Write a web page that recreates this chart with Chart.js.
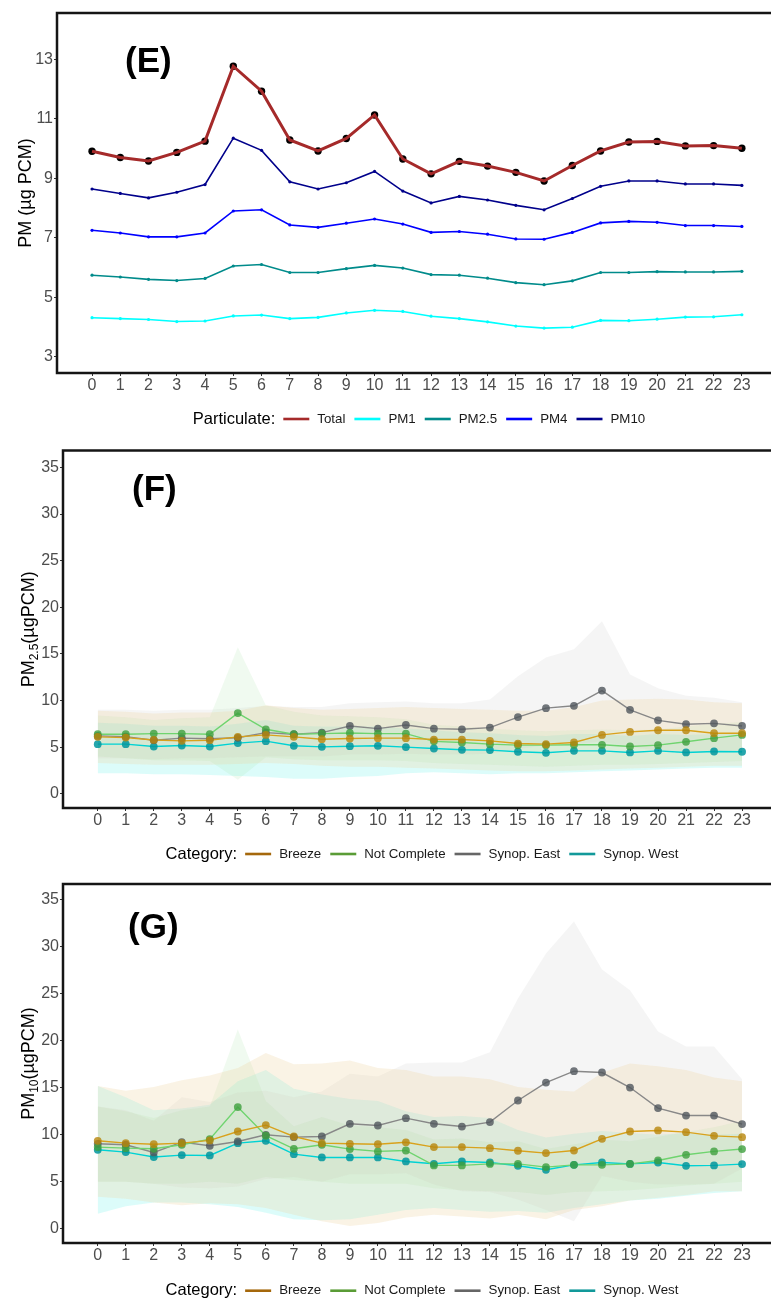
<!DOCTYPE html>
<html>
<head>
<meta charset="utf-8">
<title>PM hourly profiles</title>
<script src="https://cdn.jsdelivr.net/npm/chart.js@4.4.1/dist/chart.umd.min.js"></script>
<style>
  body { margin: 0; background: #fff; overflow: hidden; }
  canvas { display: block; }
</style>
</head>
<body>
<canvas id="chartE" width="771" height="440"></canvas>
<canvas id="chartF" width="771" height="430"></canvas>
<canvas id="chartG" width="771" height="430"></canvas>
<script>
const hours = [0, 1, 2, 3, 4, 5, 6, 7, 8, 9, 10, 11, 12, 13, 14, 15, 16, 17, 18, 19, 20, 21, 22, 23];
const eTicks = [3, 5, 7, 9, 11, 13];
const catTicks = [0, 5, 10, 15, 20, 25, 30, 35];

// (E) hourly means per particulate size
const particulates = ['Total', 'PM1', 'PM2.5', 'PM4', 'PM10'];
const pmTotal = [9.91, 9.70, 9.58, 9.87, 10.25, 12.77, 11.93, 10.29, 9.92, 10.34, 11.13, 9.65, 9.15, 9.57, 9.41, 9.20, 8.91, 9.43, 9.92, 10.22, 10.24, 10.09, 10.10, 10.01];
const pm1 = [4.31, 4.28, 4.25, 4.18, 4.20, 4.37, 4.40, 4.28, 4.32, 4.47, 4.56, 4.52, 4.36, 4.28, 4.17, 4.03, 3.96, 3.99, 4.22, 4.21, 4.26, 4.33, 4.34, 4.41];
const pm25 = [5.74, 5.68, 5.60, 5.56, 5.63, 6.05, 6.10, 5.83, 5.83, 5.96, 6.07, 5.98, 5.76, 5.74, 5.64, 5.49, 5.42, 5.55, 5.83, 5.83, 5.86, 5.85, 5.85, 5.87];
const pm4 = [7.25, 7.16, 7.03, 7.03, 7.16, 7.90, 7.94, 7.43, 7.35, 7.49, 7.63, 7.46, 7.18, 7.21, 7.12, 6.96, 6.95, 7.18, 7.50, 7.55, 7.52, 7.41, 7.41, 7.38];
const pm10 = [8.64, 8.49, 8.34, 8.53, 8.79, 10.35, 9.94, 8.88, 8.64, 8.85, 9.23, 8.57, 8.17, 8.39, 8.27, 8.09, 7.94, 8.32, 8.73, 8.91, 8.91, 8.81, 8.81, 8.76];

const categories = ['Breeze', 'Not Complete', 'Synop. East', 'Synop. West'];

// (F) PM2.5 by category: mean, lower and upper band
const f25Breeze = [6.10, 6.02, 5.77, 5.67, 5.74, 6.10, 6.31, 6.10, 5.85, 5.92, 5.96, 5.96, 5.81, 5.81, 5.67, 5.38, 5.32, 5.50, 6.31, 6.63, 6.81, 6.81, 6.49, 6.49];
const f25BreezeLo = [3.3, 3.2, 3.1, 3.1, 3.1, 3.2, 3.3, 3.2, 3.0, 2.9, 2.9, 2.8, 2.7, 2.6, 2.5, 2.4, 2.4, 2.5, 2.6, 2.7, 2.8, 2.9, 3.0, 3.0];
const f25BreezeHi = [8.9, 8.8, 8.6, 8.7, 8.7, 8.9, 9.5, 9.2, 9.0, 9.1, 9.2, 9.3, 9.2, 9.1, 9.0, 8.9, 8.9, 9.3, 10.0, 10.1, 10.2, 10.1, 9.8, 9.7];
const f25NotComplete = [6.38, 6.38, 6.45, 6.45, 6.38, 8.65, 6.91, 6.38, 6.45, 6.52, 6.45, 6.45, 5.62, 5.50, 5.32, 5.21, 5.21, 5.25, 5.25, 5.07, 5.21, 5.57, 5.96, 6.31];
const f25NotCompleteLo = [4.0, 3.8, 3.6, 3.6, 3.5, 1.5, 3.9, 3.7, 3.6, 3.6, 3.6, 3.5, 3.3, 3.2, 3.1, 3.0, 2.9, 3.0, 3.1, 3.1, 3.2, 3.3, 3.4, 3.5];
const f25NotCompleteHi = [8.4, 8.2, 7.9, 8.1, 8.2, 15.7, 9.5, 8.8, 8.4, 8.3, 8.2, 8.0, 7.4, 7.2, 7.0, 6.8, 6.7, 6.8, 6.9, 6.8, 6.9, 7.2, 7.5, 7.7];
const f25East = [6.20, 6.13, 5.74, 5.96, 5.89, 6.00, 6.55, 6.38, 6.55, 7.27, 6.98, 7.37, 6.98, 6.91, 7.09, 8.22, 9.18, 9.43, 11.06, 9.00, 7.87, 7.45, 7.55, 7.27];
const f25EastLo = [3.8, 3.8, 3.7, 3.8, 3.8, 3.9, 4.0, 4.0, 4.0, 4.2, 4.2, 4.3, 4.2, 4.2, 4.3, 4.8, 5.2, 5.3, 5.6, 5.0, 4.6, 4.4, 4.5, 4.4];
const f25EastHi = [9.0, 9.0, 8.9, 9.0, 9.0, 9.2, 9.4, 9.3, 9.3, 9.7, 9.8, 9.9, 9.7, 9.7, 10.1, 12.6, 14.6, 15.5, 18.5, 12.8, 11.3, 10.5, 10.3, 9.8];
const f25West = [5.32, 5.32, 5.06, 5.17, 5.06, 5.43, 5.64, 5.14, 5.03, 5.10, 5.14, 5.00, 4.85, 4.71, 4.68, 4.50, 4.39, 4.60, 4.60, 4.43, 4.60, 4.43, 4.53, 4.50];
const f25WestLo = [2.2, 2.2, 2.1, 2.1, 2.0, 1.9, 1.8, 1.6, 1.6, 1.8, 1.9, 2.2, 2.3, 2.2, 2.1, 2.2, 2.2, 2.3, 2.4, 2.5, 2.6, 2.7, 2.8, 2.8];
const f25WestHi = [7.6, 7.5, 7.3, 7.3, 7.2, 7.5, 7.9, 7.3, 7.2, 7.2, 7.2, 7.0, 6.8, 6.6, 6.5, 6.3, 6.2, 6.4, 6.4, 6.2, 6.4, 6.3, 6.4, 6.4];

// (G) PM10 by category
const g10Breeze = [9.36, 9.11, 9.00, 9.11, 9.40, 10.35, 11.03, 9.82, 9.11, 9.04, 9.00, 9.20, 8.69, 8.69, 8.58, 8.30, 8.05, 8.33, 9.57, 10.35, 10.46, 10.28, 9.89, 9.75];
const g10BreezeLo = [3.4, 3.2, 2.8, 2.5, 2.7, 2.6, 2.2, 1.5, 0.8, 0.3, 0.6, 1.2, 1.5, 1.3, 1.1, 1.5, 1.0, 2.0, 2.4, 3.0, 3.3, 3.6, 4.0, 4.0];
const g10BreezeHi = [15.2, 14.7, 15.1, 15.8, 16.3, 17.1, 18.7, 17.5, 17.6, 17.9, 17.1, 16.9, 16.2, 16.2, 15.9, 15.1, 14.8, 14.6, 16.6, 17.6, 17.3, 16.9, 16.1, 15.7];
const g10NotComplete = [8.69, 8.58, 8.51, 8.94, 9.54, 12.95, 9.90, 8.51, 8.94, 8.48, 8.23, 8.33, 6.74, 6.74, 6.90, 6.90, 6.56, 6.80, 6.80, 6.90, 7.27, 7.87, 8.23, 8.48];
const g10NotCompleteLo = [5.0, 5.0, 4.8, 4.8, 5.0, 4.8, 5.5, 5.2, 5.0, 4.8, 4.8, 4.8, 4.3, 4.1, 4.0, 3.9, 3.6, 3.9, 4.0, 4.1, 4.3, 4.6, 4.8, 5.0];
const g10NotCompleteHi = [13.0, 12.5, 11.8, 12.6, 13.0, 21.2, 13.6, 10.9, 11.9, 11.0, 10.8, 10.5, 9.5, 9.6, 9.2, 9.3, 8.5, 9.0, 9.5, 9.3, 9.8, 10.3, 10.8, 11.5];
const g10East = [9.04, 8.94, 8.12, 9.22, 8.83, 9.29, 10.00, 9.75, 9.82, 11.17, 10.99, 11.77, 11.17, 10.88, 11.35, 13.65, 15.56, 16.77, 16.63, 15.03, 12.84, 12.05, 12.05, 11.14];
const g10EastLo = [5.0, 5.0, 4.8, 4.4, 4.3, 4.5, 5.3, 5.5, 5.0, 5.8, 5.8, 5.9, 4.7, 4.0, 3.9, 3.1, 2.0, 0.8, 5.6, 5.0, 4.7, 4.7, 4.8, 6.4];
const g10EastHi = [13.0, 12.6, 11.5, 14.0, 13.5, 14.5, 14.7, 14.0, 14.6, 16.5, 16.2, 17.6, 17.7, 17.7, 18.8, 24.5, 29.3, 32.7, 27.6, 25.4, 21.0, 19.4, 19.4, 15.9];
const g10West = [8.40, 8.16, 7.63, 7.84, 7.80, 9.11, 9.36, 7.94, 7.59, 7.59, 7.59, 7.16, 6.91, 7.16, 7.05, 6.70, 6.28, 6.80, 7.05, 6.90, 7.05, 6.70, 6.74, 6.88];
const g10WestLo = [1.6, 2.4, 2.8, 2.8, 2.6, 2.3, 1.7, 1.0, 0.9, 1.0, 1.5, 2.0, 2.2, 2.0, 1.8, 1.9, 1.7, 2.2, 2.6, 3.0, 3.2, 3.5, 3.8, 4.0];
const g10WestHi = [15.2, 14.0, 12.6, 12.8, 13.2, 15.7, 16.9, 14.9, 14.3, 13.8, 13.6, 12.5, 11.9, 12.0, 11.8, 10.5, 9.7, 10.1, 10.4, 10.2, 10.0, 10.2, 10.0, 10.1];

// colours
const pmColors = ['#a52a2a', '#00ffff', '#008b8b', '#0000ff', '#00008b'];
const catKeyColors = ['#a5680c', '#5a9c36', '#666666', '#12999a'];
const catLineColors = ['#d9a21c', '#6fd46f', '#888888', '#00d2d4'];
const catPointColors = ['rgba(184,134,11,0.8)', 'rgba(62,160,62,0.8)', 'rgba(80,86,92,0.8)', 'rgba(0,150,158,0.85)'];
const catBandColors = ['rgba(238,210,160,0.27)', 'rgba(140,215,140,0.13)', 'rgba(190,190,190,0.16)', 'rgba(40,235,225,0.16)'];

Chart.defaults.font.family = '"Liberation Sans", Arial, sans-serif';
Chart.defaults.animation = false;

function xy(vals) {
    return vals.map(function (v, i) { return { x: hours[i], y: v }; });
}

// frame, panel tag, y title (with subscript) and the inline legend
const panelPlugin = {
    id: 'panel',
    afterDraw: function (chart, args, o) {
        var ctx = chart.ctx, a = chart.chartArea;
        ctx.save();
        ctx.strokeStyle = '#151515';
        ctx.lineWidth = 2.5;
        ctx.beginPath();
        ctx.moveTo(chart.width + 5, a.top);
        ctx.lineTo(a.left, a.top);
        ctx.lineTo(a.left, a.bottom);
        ctx.lineTo(chart.width + 5, a.bottom);
        ctx.stroke();

        ctx.fillStyle = '#000';
        ctx.textAlign = 'left';
        ctx.textBaseline = 'alphabetic';
        ctx.font = 'bold 35px "Liberation Sans", Arial';
        ctx.fillText(o.tag, o.tagX, o.tagY);

        // y title, rotated
        var total = 0;
        o.yTitle.forEach(function (p) {
            ctx.font = p[1] + 'px "Liberation Sans", Arial';
            total += ctx.measureText(p[0]).width;
        });
        ctx.translate(o.yTitleBase, (a.top + a.bottom) / 2);
        ctx.rotate(-Math.PI / 2);
        var px = -total / 2;
        o.yTitle.forEach(function (p) {
            ctx.font = p[1] + 'px "Liberation Sans", Arial';
            ctx.fillText(p[0], px, p[2]);
            px += ctx.measureText(p[0]).width;
        });
        ctx.setTransform(1, 0, 0, 1, 0, 0);

        // legend row: title, then swatch + label for each entry
        var lg = o.legend;
        var titleFont = '16.5px "Liberation Sans", Arial';
        var itemFont = '13.3px "Liberation Sans", Arial';
        ctx.textBaseline = 'middle';
        ctx.font = titleFont;
        var titleW = ctx.measureText(lg.title).width;
        ctx.font = itemFont;
        var width = titleW + 8;
        lg.labels.forEach(function (l) { width += 34 + ctx.measureText(l).width; });
        width += 9 * (lg.labels.length - 1);
        var x = lg.cx - width / 2;
        ctx.font = titleFont;
        ctx.fillStyle = '#000';
        ctx.fillText(lg.title, x, lg.y);
        x += titleW + 8;
        ctx.font = itemFont;
        lg.labels.forEach(function (l, k) {
            ctx.strokeStyle = lg.colors[k];
            ctx.lineWidth = 2.6;
            ctx.beginPath();
            ctx.moveTo(x, lg.y);
            ctx.lineTo(x + 26, lg.y);
            ctx.stroke();
            x += 34;
            ctx.fillStyle = '#1a1a1a';
            ctx.fillText(l, x, lg.y);
            x += ctx.measureText(l).width + 9;
        });
        ctx.restore();
    }
};

function scalesFor(yMin, yMax, yTicks, yWidth) {
    return {
        x: {
            type: 'linear', min: -1.24, max: 23.89,
            grid: { drawOnChartArea: false, tickLength: 3, color: '#333' },
            border: { display: false },
            ticks: { autoSkip: false, maxRotation: 0, padding: 0, color: '#4d4d4d', font: { size: 16 },
                     callback: function (v) { return String(v); } },
            afterBuildTicks: function (s) { s.ticks = hours.map(function (v) { return { value: v }; }); },
            afterFit: function (s) { s.height = 30; }
        },
        y: {
            min: yMin, max: yMax,
            grid: { drawOnChartArea: false, tickLength: 3, color: '#333' },
            border: { display: false },
            ticks: { padding: 1, color: '#4d4d4d', font: { size: 16 },
                     callback: function (v) { return String(v); } },
            afterBuildTicks: function (s) { s.ticks = yTicks.map(function (v) { return { value: v }; }); },
            afterFit: function (s) { s.width = yWidth; }
        }
    };
}

// ---- (E) particulate sizes ----
var eSets = [
    { data: xy(pmTotal), borderColor: pmColors[0], borderWidth: 3, pointRadius: 0, order: 1 },
    { data: xy(pmTotal), showLine: false, pointRadius: 3.7, pointBackgroundColor: '#000', pointBorderWidth: 0, order: 2 }
];
[pm1, pm25, pm4, pm10].forEach(function (vals, k) {
    eSets.push({ data: xy(vals), borderColor: pmColors[k + 1], borderWidth: 1.6, pointRadius: 1.6,
                 pointBackgroundColor: pmColors[k + 1], pointBorderWidth: 0, order: 3 });
});

new Chart(document.getElementById('chartE'), {
    type: 'line',
    data: { datasets: eSets },
    options: {
        responsive: false,
        layout: { padding: { top: 13, left: 0, right: 0, bottom: 37 } },
        scales: scalesFor(2.45, 14.56, eTicks, 57),
        elements: { line: { tension: 0 } },
        plugins: {
            legend: { display: false },
            tooltip: { enabled: false },
            panel: {
                tag: '(E)', tagX: 125, tagY: 72,
                yTitleBase: 30.5, yTitle: [['PM (µg PCM)', 18, 0]],
                legend: { title: 'Particulate:', labels: particulates, colors: pmColors, cx: 419, y: 419 }
            }
        }
    },
    plugins: [panelPlugin]
});

// ---- (F), (G) meteorological categories with bands ----
function categoryDatasets(means, lows, highs) {
    var sets = [];
    categories.forEach(function (c, k) {
        var idx = sets.length;
        sets.push({ data: xy(highs[k]), fill: idx + 1, backgroundColor: catBandColors[k],
                    borderWidth: 0, borderColor: 'rgba(0,0,0,0)', pointRadius: 0, order: 3 });
        sets.push({ data: xy(lows[k]), fill: false, borderWidth: 0, borderColor: 'rgba(0,0,0,0)', pointRadius: 0, order: 3 });
    });
    categories.forEach(function (c, k) {
        sets.push({ label: c, data: xy(means[k]), borderColor: catLineColors[k], borderWidth: 1.4, pointRadius: 0, order: 2 });
        sets.push({ data: xy(means[k]), showLine: false, pointRadius: 3.9, pointBackgroundColor: catPointColors[k],
                    pointBorderWidth: 0, order: 1 });
    });
    return sets;
}

function categoryChart(id, sets, padTop, padBottom, yMin, yMax, panel) {
    return new Chart(document.getElementById(id), {
        type: 'line',
        data: { datasets: sets },
        options: {
            responsive: false,
            layout: { padding: { top: padTop, left: 0, right: 0, bottom: padBottom } },
            scales: scalesFor(yMin, yMax, catTicks, 63),
            elements: { line: { tension: 0 } },
            plugins: { legend: { display: false }, tooltip: { enabled: false }, filler: { propagate: false }, panel: panel }
        },
        plugins: [panelPlugin]
    });
}

categoryChart('chartF',
    categoryDatasets([f25Breeze, f25NotComplete, f25East, f25West],
                     [f25BreezeLo, f25NotCompleteLo, f25EastLo, f25WestLo],
                     [f25BreezeHi, f25NotCompleteHi, f25EastHi, f25WestHi]),
    7, 32, -1.53, 36.8,
    {
        tag: '(F)', tagX: 132, tagY: 60,
        yTitleBase: 33.5, yTitle: [['PM', 18, 0], ['2.5', 12, 4.5], ['(µgPCM)', 18, 0]],
        legend: { title: 'Category:', labels: categories, colors: catKeyColors, cx: 422, y: 414 }
    });

categoryChart('chartG',
    categoryDatasets([g10Breeze, g10NotComplete, g10East, g10West],
                     [g10BreezeLo, g10NotCompleteLo, g10EastLo, g10WestLo],
                     [g10BreezeHi, g10NotCompleteHi, g10EastHi, g10WestHi]),
    14, 27, -1.52, 36.7,
    {
        tag: '(G)', tagX: 128, tagY: 68,
        yTitleBase: 33.5, yTitle: [['PM', 18, 0], ['10', 12, 4.5], ['(µgPCM)', 18, 0]],
        legend: { title: 'Category:', labels: categories, colors: catKeyColors, cx: 422, y: 420.7 }
    });
</script>
</body>
</html>
